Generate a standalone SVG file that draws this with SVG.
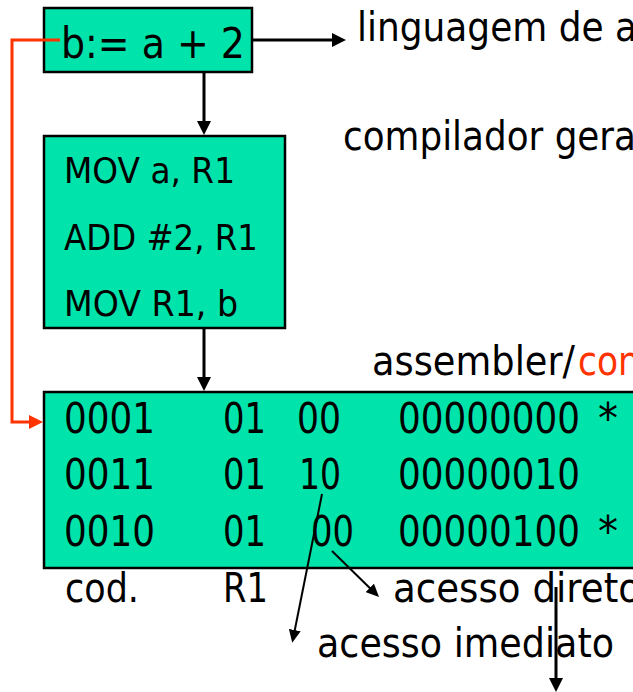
<svg xmlns="http://www.w3.org/2000/svg" width="633" height="692" viewBox="0 0 633 692">
  <style>
    .box { fill: #00E3AA; stroke: #000; stroke-width: 2.5; }
    text { font-family: "DejaVu Sans", Verdana, sans-serif; fill: #000; }
    .t40 { font-size: 40px; }
    .t42 { font-size: 42px; }
    .t36 { font-size: 36px; }
    .red { fill: #FF3300; }
    .wire { fill: none; stroke: #000; stroke-width: 3; }
    .thin { fill: none; stroke: #000; stroke-width: 2; }
    .redwire { fill: none; stroke: #FF3300; stroke-width: 3; }
  </style>
  <defs>
    <marker id="head" markerUnits="userSpaceOnUse" markerWidth="14" markerHeight="14" refX="4" refY="7" orient="auto">
      <path d="M0,0 L14,7 L0,14 z" fill="#000"/>
    </marker>
    <marker id="head-thin" markerUnits="userSpaceOnUse" markerWidth="13" markerHeight="12" refX="4" refY="6" orient="auto">
      <path d="M0,0 L13,6 L0,12 z" fill="#000"/>
    </marker>
    <marker id="head-red" markerUnits="userSpaceOnUse" markerWidth="14" markerHeight="14" refX="4" refY="7" orient="auto">
      <path d="M0,0 L14,7 L0,14 z" fill="#FF3300"/>
    </marker>
  </defs>

  <!-- high-level statement -->
  <g id="src-code">
    <rect class="box" x="44" y="8" width="208" height="64"/>
    <text class="t42" x="61" y="58" textLength="184" lengthAdjust="spacingAndGlyphs">b:= a + 2</text>
  </g>

  <!-- assembly -->
  <g id="asm-code">
    <rect class="box" x="44" y="136" width="241" height="192"/>
    <text class="t36" x="64" y="183" textLength="171" lengthAdjust="spacingAndGlyphs">MOV a, R1</text>
    <text class="t36" x="64" y="250" textLength="194" lengthAdjust="spacingAndGlyphs">ADD #2, R1</text>
    <text class="t36" x="64" y="316" textLength="174" lengthAdjust="spacingAndGlyphs">MOV R1, b</text>
  </g>

  <!-- machine code -->
  <g id="machine-code">
    <rect class="box" x="44" y="392" width="610" height="176"/>
    <g class="t42">
      <text x="64" y="433" textLength="91" lengthAdjust="spacingAndGlyphs">0001</text>
      <text x="223" y="433" textLength="43" lengthAdjust="spacingAndGlyphs">01</text>
      <text x="297" y="433" textLength="44" lengthAdjust="spacingAndGlyphs">00</text>
      <text x="398" y="433" textLength="182" lengthAdjust="spacingAndGlyphs">00000000</text>
      <text x="598" y="433" textLength="20" lengthAdjust="spacingAndGlyphs">*</text>

      <text x="64" y="489" textLength="91" lengthAdjust="spacingAndGlyphs">0011</text>
      <text x="223" y="489" textLength="43" lengthAdjust="spacingAndGlyphs">01</text>
      <text x="299" y="489" textLength="42" lengthAdjust="spacingAndGlyphs">10</text>
      <text x="398" y="489" textLength="182" lengthAdjust="spacingAndGlyphs">00000010</text>

      <text x="64" y="546" textLength="91" lengthAdjust="spacingAndGlyphs">0010</text>
      <text x="223" y="546" textLength="43" lengthAdjust="spacingAndGlyphs">01</text>
      <text x="311" y="546" textLength="43" lengthAdjust="spacingAndGlyphs">00</text>
      <text x="398" y="546" textLength="182" lengthAdjust="spacingAndGlyphs">00000100</text>
      <text x="598" y="546" textLength="20" lengthAdjust="spacingAndGlyphs">*</text>
    </g>
  </g>

  <!-- labels -->
  <g id="labels" class="t40">
    <text x="357" y="41" textLength="280" lengthAdjust="spacingAndGlyphs">linguagem de a</text>
    <text x="343" y="150" textLength="293" lengthAdjust="spacingAndGlyphs">compilador gera</text>
    <text x="372" y="375" textLength="203" lengthAdjust="spacingAndGlyphs">assembler/</text>
    <text class="red" x="578" y="375" textLength="62" lengthAdjust="spacingAndGlyphs">con</text>
    <text x="65" y="602" textLength="74" lengthAdjust="spacingAndGlyphs">cod.</text>
    <text x="223" y="602" textLength="45" lengthAdjust="spacingAndGlyphs">R1</text>
    <text x="393" y="602" textLength="248" lengthAdjust="spacingAndGlyphs">acesso direto</text>
    <text x="317" y="657" textLength="297" lengthAdjust="spacingAndGlyphs">acesso imediato</text>
  </g>

  <!-- connectors, drawn over boxes and labels -->
  <g id="connectors">
    <path class="redwire" d="M60,40 H12 V422 H33" marker-end="url(#head-red)"/>
    <line class="wire" x1="252" y1="40" x2="336" y2="40" marker-end="url(#head)"/>
    <line class="wire" x1="204" y1="72" x2="204" y2="125" marker-end="url(#head)"/>
    <line class="wire" x1="204" y1="328" x2="204" y2="381" marker-end="url(#head)"/>
    <line class="thin" x1="322" y1="494" x2="294" y2="634" marker-end="url(#head-thin)"/>
    <line class="thin" x1="332" y1="551" x2="372.6" y2="590.7" marker-end="url(#head-thin)"/>
    <line class="wire" x1="556" y1="587" x2="556" y2="682" marker-end="url(#head)"/>
  </g>
</svg>
